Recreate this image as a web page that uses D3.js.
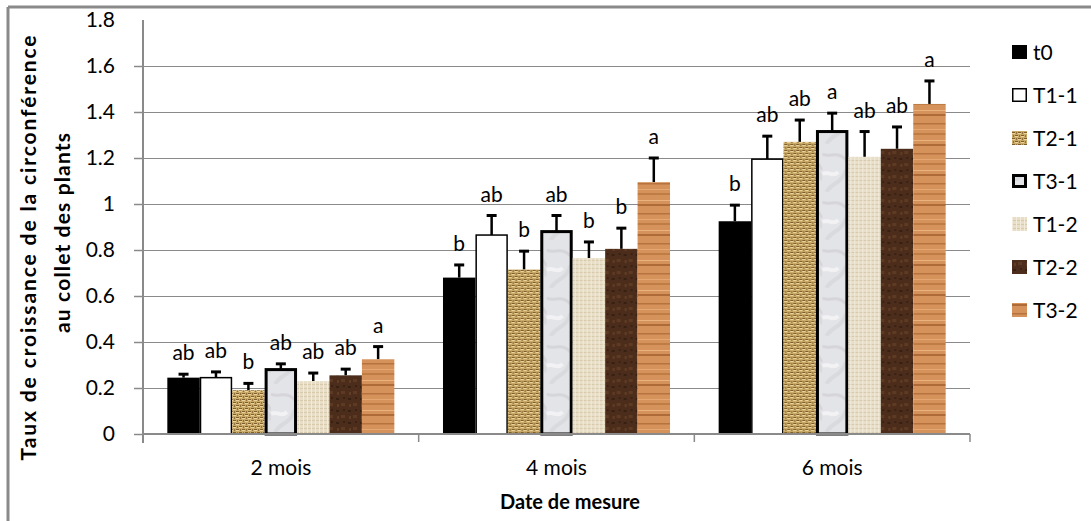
<!DOCTYPE html>
<html>
<head>
<meta charset="utf-8">
<script src="https://cdn.jsdelivr.net/npm/d3@7"></script>
<style>
  body { margin: 0; background: #fff; }
  svg text { font-family: Lato, "Liberation Sans", sans-serif; fill: #000; }
</style>
</head>
<body>
<div id="chart"></div>
<script>
const categories = ["2 mois", "4 mois", "6 mois"];
const series = ["t0", "T1-1", "T2-1", "T3-1", "T1-2", "T2-2", "T3-2"];
// mean per series, one value per category
const meanValues = [
    [0.245, 0.68, 0.925],
    [0.245, 0.865, 1.195],
    [0.19, 0.715, 1.27],
    [0.28, 0.88, 1.315],
    [0.23, 0.765, 1.205],
    [0.255, 0.805, 1.24],
    [0.325, 1.095, 1.435]
];
const errorValues = [
    [0.015, 0.055, 0.07],
    [0.025, 0.085, 0.1],
    [0.03, 0.08, 0.095],
    [0.025, 0.07, 0.08],
    [0.035, 0.07, 0.11],
    [0.027, 0.09, 0.095],
    [0.055, 0.105, 0.1]
];
const letterLabels = [
    ["ab", "b", "b"],
    ["ab", "ab", "ab"],
    ["b", "b", "ab"],
    ["ab", "ab", "a"],
    ["ab", "b", "ab"],
    ["ab", "b", "ab"],
    ["a", "a", "a"]
];
const yTicks = [0, 0.2, 0.4, 0.6, 0.8, 1, 1.2, 1.4, 1.6, 1.8];
const yTickLabels = ["0", "0.2", "0.4", "0.6", "0.8", "1", "1.2", "1.4", "1.6", "1.8"];

const width = 1091;
const height = 521;
const plotLeft = 143, plotRight = 970, plotTop = 20, plotBottom = 434;
const grey = "#8a8a8a";

const svg = d3.select("#chart")
    .append("svg")
    .attr("width", width)
    .attr("height", height);

// fills for each treatment (textures)
const defs = svg.append("defs");

function pattern(id, w, h, base) {
    const p = defs.append("pattern")
        .attr("id", id)
        .attr("patternUnits", "userSpaceOnUse")
        .attr("width", w)
        .attr("height", h);
    p.append("rect").attr("width", w).attr("height", h).attr("fill", base);
    return p;
}

// burlap weave
const burlap = pattern("burlap", 6, 6, "#c9aa68");
[[0, 0, 3, 1, "#7e5e2a"], [3, 3, 3, 1, "#7e5e2a"], [4, 0, 1, 2, "#94723a"], [1, 3, 1, 2, "#94723a"],
 [0, 1, 3, 1, "#ead49c"], [3, 4, 3, 1, "#ead49c"]].forEach(r => {
    burlap.append("rect").attr("x", r[0]).attr("y", r[1]).attr("width", r[2]).attr("height", r[3]).attr("fill", r[4]);
});

// marble
const marble = pattern("marble", 32, 48, "#e3e4e8");
marble.append("path").attr("d", "M0,10 C8,14 14,6 24,16 S30,26 32,24").attr("stroke", "#cbccd1").attr("stroke-width", 3).attr("fill", "none").attr("opacity", 0.6);
marble.append("path").attr("d", "M4,48 C10,38 18,40 22,30 S28,28 32,36").attr("stroke", "#d2d3d7").attr("stroke-width", 4).attr("fill", "none").attr("opacity", 0.6);
marble.append("path").attr("d", "M0,30 C6,26 10,34 16,28").attr("stroke", "#f2f2f4").attr("stroke-width", 4).attr("fill", "none");

// canvas
const canvas = pattern("canvas", 4, 4, "#e8dec8");
canvas.append("rect").attr("x", 0).attr("y", 0).attr("width", 4).attr("height", 1).attr("fill", "#d8caad");
canvas.append("rect").attr("x", 0).attr("y", 0).attr("width", 1).attr("height", 4).attr("fill", "#f2ebdb");

// dark brown leather
const brown = pattern("brown", 12, 12, "#4c2d1b");
[[1, 2, 3, 2, "#352012"], [6, 7, 4, 3, "#5f3a22"], [8, 1, 2, 2, "#3a2213"], [2, 8, 2, 3, "#603c25"]].forEach(r => {
    brown.append("rect").attr("x", r[0]).attr("y", r[1]).attr("width", r[2]).attr("height", r[3]).attr("fill", r[4]);
});

// wood
const wood = pattern("wood", 40, 30, "#d5935b");
[[3, 1.5, "#b8723d"], [9, 1, "#e6a873"], [13, 2, "#c07c45"], [20, 1, "#eab27e"], [24, 2, "#af6b37"]].forEach(r => {
    wood.append("rect").attr("x", 0).attr("y", r[0]).attr("width", 40).attr("height", r[1]).attr("fill", r[2]);
});

const fills = ["#000", "#fff", "url(#burlap)", "url(#marble)", "url(#canvas)", "url(#brown)", "url(#wood)"];
const strokes = ["none", "#000", "none", "#000", "none", "none", "none"];
const strokeWidths = [0, 1.5, 0, 3, 0, 0, 0];

// frame
svg.append("line").attr("x1", 8).attr("x2", width).attr("y1", 7).attr("y2", 7)
    .attr("stroke", grey).attr("stroke-width", 3);
svg.append("line").attr("x1", 8).attr("x2", 8).attr("y1", 7).attr("y2", height)
    .attr("stroke", grey).attr("stroke-width", 3);

const x0 = d3.scaleBand().domain(categories).range([plotLeft, plotRight]).padding(0);
const x1 = d3.scaleBand().domain(series).range([0, x0.bandwidth()]).paddingInner(0).paddingOuter(0.75);
const y = d3.scaleLinear().domain([0, 1.8]).range([plotBottom, plotTop]);

// gridlines
svg.append("g")
    .selectAll("line")
    .data(yTicks.filter(t => t > 0 && t < 1.8))
    .enter()
    .append("line")
    .attr("x1", plotLeft).attr("x2", plotRight)
    .attr("y1", d => y(d) + 0.5).attr("y2", d => y(d) + 0.5)
    .attr("stroke", grey).attr("stroke-width", 1);

// y axis
const yAxis = svg.append("g")
    .attr("transform", `translate(${plotLeft},0)`)
    .call(d3.axisLeft(y)
        .tickValues(yTicks)
        .tickFormat((d, i) => yTickLabels[i])
        .tickSize(9)
        .tickPadding(19));
yAxis.select(".domain").attr("stroke", grey).attr("stroke-width", 2).attr("d", `M0,${plotTop}V${plotBottom + 9}`);
yAxis.selectAll(".tick line").attr("stroke", grey).attr("stroke-width", 1.5)
    .filter(d => d === 1.8).remove();
yAxis.selectAll(".tick text").style("font-size", "21px").style("font-family", "Lato, sans-serif");

// bars
const groups = svg.append("g")
    .selectAll("g")
    .data(categories)
    .enter()
    .append("g")
    .attr("transform", d => `translate(${x0(d)},0)`);

groups.each(function (cat, ci) {
    const g = d3.select(this);
    series.forEach((s, si) => {
        const v = meanValues[si][ci];
        const e = errorValues[si][ci];
        const bx = x1(s);
        const bw = x1.bandwidth();
        const cx = bx + bw / 2;
        // error bar
        g.append("line")
            .attr("x1", cx).attr("x2", cx)
            .attr("y1", y(v)).attr("y2", y(v + e))
            .attr("stroke", "#000").attr("stroke-width", 2.5);
        g.append("line")
            .attr("x1", cx - 5).attr("x2", cx + 5)
            .attr("y1", y(v + e)).attr("y2", y(v + e))
            .attr("stroke", "#000").attr("stroke-width", 3);
        const sw = strokeWidths[si];
        g.append("rect")
            .attr("x", bx + sw / 2)
            .attr("y", y(v))
            .attr("width", bw - sw)
            .attr("height", y(0) - y(v))
            .attr("fill", fills[si])
            .attr("stroke", strokes[si])
            .attr("stroke-width", sw);
        g.append("text")
            .attr("x", cx)
            .attr("y", y(v + e) - 14)
            .attr("text-anchor", "middle")
            .style("font-size", "21px")
            .text(letterLabels[si][ci]);
    });
});

// x axis
const xAxis = svg.append("g")
    .attr("transform", `translate(0,${plotBottom})`);
xAxis.append("line").attr("x1", plotLeft).attr("x2", plotRight).attr("y1", 0).attr("y2", 0)
    .attr("stroke", grey).attr("stroke-width", 2);
xAxis.selectAll(".xtick")
    .data(categories.map(c => x0(c) + x0.bandwidth()))
    .enter()
    .append("line")
    .attr("x1", d => d).attr("x2", d => d)
    .attr("y1", 0).attr("y2", 8)
    .attr("stroke", grey).attr("stroke-width", 1.5);
xAxis.selectAll(".xlabel")
    .data(categories)
    .enter()
    .append("text")
    .attr("x", d => x0(d) + x0.bandwidth() / 2)
    .attr("y", 41)
    .attr("text-anchor", "middle")
    .style("font-size", "21px")
    .text(d => d);

// axis titles
svg.append("text")
    .attr("x", 570)
    .attr("y", 509)
    .attr("text-anchor", "middle")
    .style("font-size", "20px")
    .style("font-weight", "bold")
    .text("Date de mesure");

svg.append("text")
    .attr("transform", "translate(36,248) rotate(-90)")
    .attr("text-anchor", "middle")
    .attr("textLength", 425)
    .attr("lengthAdjust", "spacing")
    .style("font-size", "21px")
    .style("font-weight", "bold")
    .text("Taux de croissance de la circonférence");
svg.append("text")
    .attr("transform", "translate(70,233) rotate(-90)")
    .attr("text-anchor", "middle")
    .attr("textLength", 200)
    .attr("lengthAdjust", "spacing")
    .style("font-size", "21px")
    .style("font-weight", "bold")
    .text("au collet des plants");

// legend
const legend = svg.append("g")
    .selectAll("g")
    .data(series)
    .enter()
    .append("g")
    .attr("transform", (d, i) => `translate(1012,${52 + i * 43})`);

legend.append("rect")
    .attr("x", (d, i) => strokeWidths[i] / 2)
    .attr("y", (d, i) => -7 + strokeWidths[i] / 2)
    .attr("width", (d, i) => 15 - strokeWidths[i])
    .attr("height", (d, i) => 14 - strokeWidths[i])
    .attr("fill", (d, i) => fills[i])
    .attr("stroke", (d, i) => strokes[i])
    .attr("stroke-width", (d, i) => strokeWidths[i]);

legend.append("text")
    .attr("x", 21)
    .attr("y", 8)
    .style("font-size", "21px")
    .text(d => d);
</script>
</body>
</html>
